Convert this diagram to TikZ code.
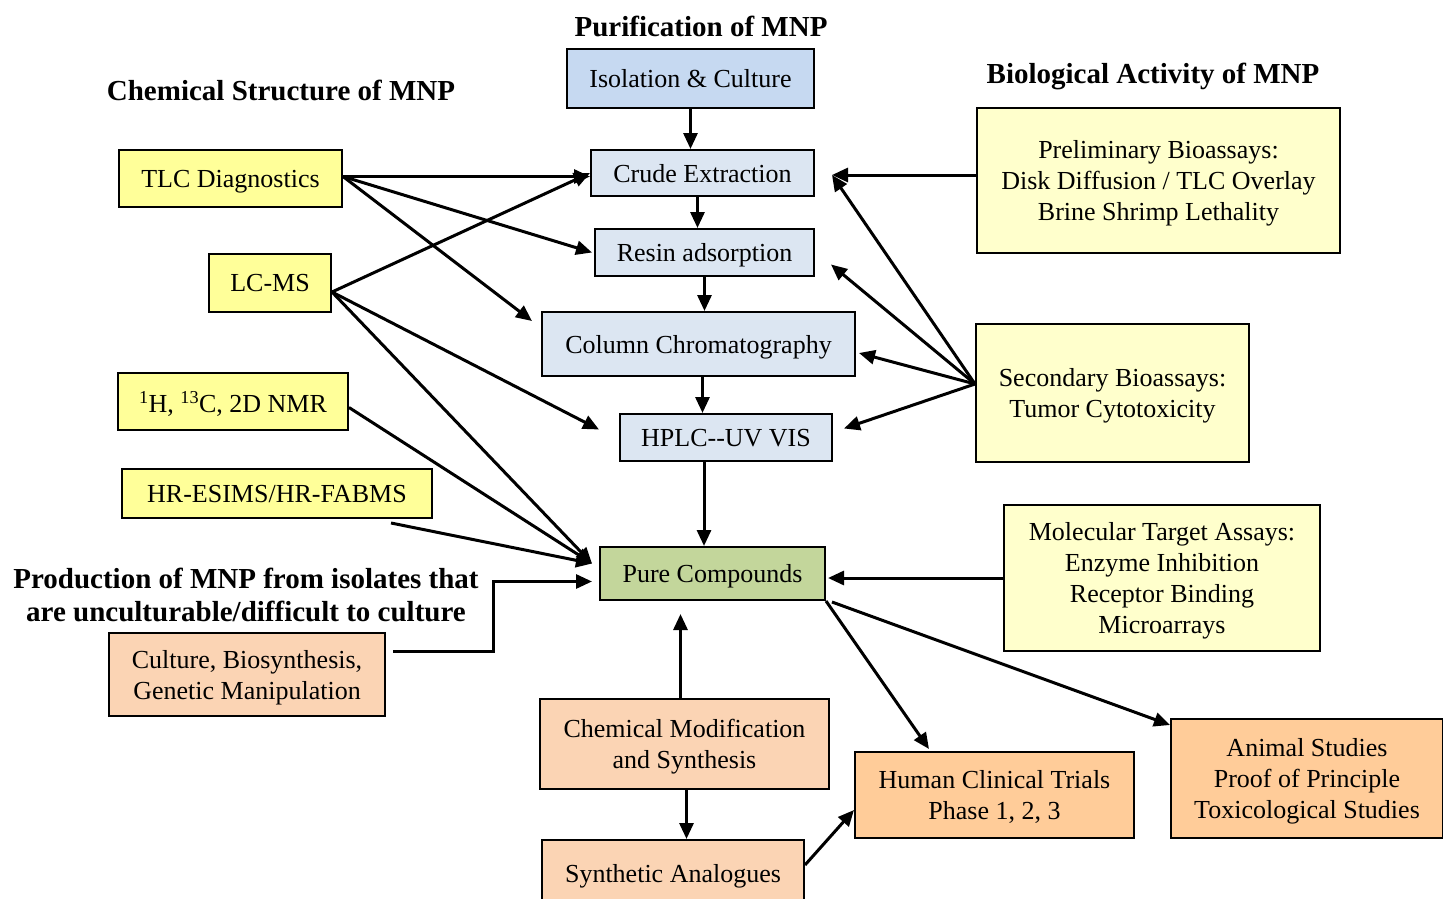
\documentclass[tikz,border=0pt]{standalone}
\usepackage{fontspec}
\setmainfont{Liberation Serif}
\usetikzlibrary{arrows.meta,calc}

\definecolor{isoblue}{RGB}{198,217,241}
\definecolor{stepblue}{RGB}{220,230,242}
\definecolor{puregreen}{RGB}{195,214,155}
\definecolor{toolyellow}{RGB}{255,255,153}
\definecolor{assayyellow}{RGB}{255,255,204}
\definecolor{synthpeach}{RGB}{251,212,180}
\definecolor{trialorange}{RGB}{255,204,153}

\tikzset{
  box/.style={draw=black,line width=2pt,inner sep=0pt,align=center,text depth=-2pt,
    font=\fontsize{26}{31}\selectfont},
  heading/.style={align=center,font=\fontsize{29}{33}\selectfont\bfseries},
  flow/.style={color=black,line width=3pt,-{Triangle[length=16pt,width=14pt]}},
}

\begin{document}
\begin{tikzpicture}[x=1pt,y=-1pt]
\useasboundingbox (0,0) rectangle (1443,899);

% The headings
\node[heading] (purif) at (701,26) {Purification of MNP};
\node[heading] (chem) at (281,90) {Chemical Structure of MNP};
\node[heading] (bio) at (1153,76) {Biological Activity of MNP};
\node[heading] (prod) at (246,595) {Production of MNP from isolates that\\are unculturable/difficult to culture};

% The purification steps
\node[box,fill=isoblue,minimum width=247pt,minimum height=59pt] (iso) at (690.5,78.5) {Isolation \& Culture};
\node[box,fill=stepblue,minimum width=223pt,minimum height=46pt] (crude) at (702.5,173) {Crude Extraction};
\node[box,fill=stepblue,minimum width=219pt,minimum height=47pt] (resin) at (704.5,252.5) {Resin adsorption};
\node[box,fill=stepblue,minimum width=313pt,minimum height=64pt] (column) at (698.5,344) {Column Chromatography};
\node[box,fill=stepblue,minimum width=212pt,minimum height=47pt] (hplc) at (726,437.5) {HPLC-{}-UV VIS};
\node[box,fill=puregreen,minimum width=225pt,minimum height=53pt] (pure) at (712.5,573.5) {Pure Compounds};

% The structure tools
\node[box,fill=toolyellow,minimum width=223pt,minimum height=57pt] (tlc) at (230.5,178.5) {TLC Diagnostics};
\node[box,fill=toolyellow,minimum width=122pt,minimum height=58pt] (lcms) at (270,283) {LC-MS};
\node[box,fill=toolyellow,minimum width=230pt,minimum height=57pt] (nmr) at (233,401.5) {\textsuperscript{1}H, \textsuperscript{13}C, 2D NMR};
\node[box,fill=toolyellow,minimum width=310pt,minimum height=49pt] (hresi) at (277,493.5) {HR-ESIMS/HR-FABMS};

% The bioassays
\node[box,fill=assayyellow,minimum width=363pt,minimum height=145pt] (prelim) at (1158.5,180.5) {Preliminary Bioassays:\\Disk Diffusion / TLC Overlay\\Brine Shrimp Lethality};
\node[box,fill=assayyellow,minimum width=273pt,minimum height=138pt] (second) at (1112.5,393) {Secondary Bioassays:\\Tumor Cytotoxicity};
\node[box,fill=assayyellow,minimum width=316pt,minimum height=146pt] (molec) at (1162,578) {Molecular Target Assays:\\Enzyme Inhibition\\Receptor Binding\\Microarrays};

% The production and synthesis
\node[box,fill=synthpeach,minimum width=276pt,minimum height=83pt] (culture) at (247,674.5) {Culture, Biosynthesis,\\Genetic Manipulation};
\node[box,fill=synthpeach,minimum width=289pt,minimum height=90pt] (chemmod) at (684.5,744) {Chemical Modification\\and Synthesis};
\node[box,fill=synthpeach,minimum width=262pt,minimum height=66pt] (synth) at (673,873) {Synthetic Analogues};

% The studies
\node[box,fill=trialorange,minimum width=279pt,minimum height=86pt] (human) at (994.5,795) {Human Clinical Trials\\Phase 1, 2, 3};
\node[box,fill=trialorange,minimum width=272pt,minimum height=119pt] (animal) at (1307,778.5) {Animal Studies\\Proof of Principle\\Toxicological Studies};

% The helper points
\coordinate (crudeout) at ($(crude.south)+(-5,0)$);
\coordinate (columnout) at ($(column.south)+(4,0)$);
\coordinate (hplcout) at ($(hplc.south)+(-22,0)$);
\coordinate (chemout) at ($(chemmod.south)+(2,0)$);
\coordinate (crudein) at ($(crude.east)+(17,2)$);
\coordinate (secout) at ($(second.west)+(0,-9)$);
\coordinate (purein) at ($(pure.west)+(-7,-10)$);
\coordinate (tlcout) at ($(tlc.east)+(0,-2)$);
\coordinate (lcmsout) at ($(lcms.east)+(0,9)$);

% The purification chain
\draw[flow] (iso.south) -- (iso.south |- crude.north);
\draw[flow] (crudeout) -- (crudeout |- resin.north);
\draw[flow] (resin.south) -- (resin.south |- column.north);
\draw[flow] (columnout) -- (columnout |- hplc.north);
\draw[flow] (hplcout) -- (hplcout |- pure.north);

% The structure arrows
\draw[flow] (tlcout) -- (tlcout -| crude.west);
\draw[flow] (tlcout) -- ($(resin.west)+(-2,0)$);
\draw[flow] (tlcout) -- ($(column.north west)+(-9,10)$);
\draw[flow] (lcmsout) -- (crude.west);
\draw[flow] (lcmsout) -- ($(hplc.west)+(-20,-8)$);
\draw[flow] (lcmsout) -- (purein);
\draw[flow] ($(nmr.east)+(0,6)$) -- (purein);
\draw[flow] ($(hresi.south east)+(-42,4)$) -- (purein);
\draw[flow] ($(culture.east)+(7,-23)$) -- ++(100,0) |- ($(pure.west)+(-7,8)$);

% The bioassay arrows
\draw[flow] ($(prelim.west)+(0,-5.5)$) -- (crudein);
\draw[flow] (secout) -- (crudein);
\draw[flow] (secout) -- ($(resin.east)+(16,12)$);
\draw[flow] (secout) -- ($(column.east)+(3,9)$);
\draw[flow] (secout) -- ($(hplc.east)+(11,-9)$);
\draw[flow] (molec.west) -- ($(molec.west -| pure.east)+(2,0)$);

% The synthesis and studies arrows
\draw[flow] ($(chemmod.north)+(-4,0)$) -- ($(chemmod.north)+(-4,-84)$);
\draw[flow] (chemout) -- (chemout |- synth.north);
\draw[flow] ($(synth.north east)+(0,26)$) -- ($(human.west)+(0,15)$);
\draw[flow] (pure.south east) -- ($(human.north west)+(75,-2)$);
\draw[flow] ($(pure.south east)+(6,1)$) -- ($(animal.north west)+(0,7)$);

\end{tikzpicture}
\end{document}
